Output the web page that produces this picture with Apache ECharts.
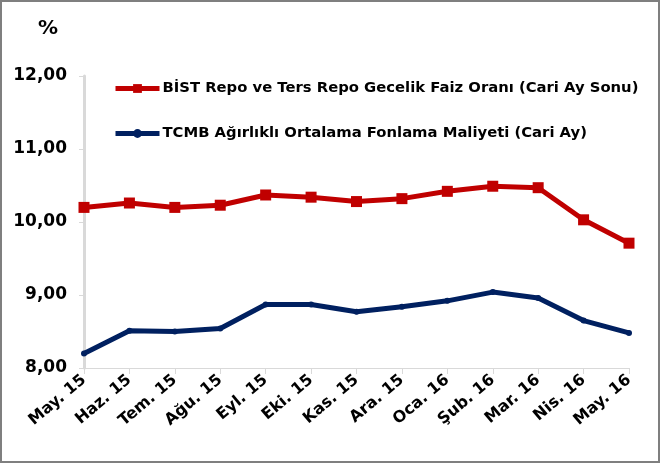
<!DOCTYPE html>
<html>
<head>
<meta charset="utf-8">
<script src="https://cdn.jsdelivr.net/npm/echarts@6/dist/echarts.min.js"></script>
<style>
  html, body { margin: 0; padding: 0; background: #fff; }
  #chart { width: 656px; height: 459px; border: 2px solid #7f7f7f; }
</style>
</head>
<body>
<div id="chart"></div>
<script>
// aylar
const months = ['May. 15', 'Haz. 15', 'Tem. 15', 'Ağu. 15', 'Eyl. 15', 'Eki. 15', 'Kas. 15',
  'Ara. 15', 'Oca. 16', 'Şub. 16', 'Mar. 16', 'Nis. 16', 'May. 16'];
// BİST repo faizi
const repoRate = [10.20, 10.26, 10.20, 10.23, 10.37, 10.34, 10.28, 10.32, 10.42, 10.49, 10.47, 10.03, 9.71];
// TCMB fonlama maliyeti
const fundingCost = [8.20, 8.51, 8.50, 8.54, 8.87, 8.87, 8.77, 8.84, 8.92, 9.04, 8.96, 8.65, 8.48];
const repoName = 'BİST Repo ve Ters Repo Gecelik Faiz Oranı (Cari Ay Sonu)';
const fundName = 'TCMB Ağırlıklı Ortalama Fonlama Maliyeti (Cari Ay)';

const font = 'DejaVu Sans';
const chart = echarts.init(document.getElementById('chart'));

chart.setOption({
  animation: false,
  textStyle: { fontFamily: font },
  grid: { left: 82, right: 29, top: 74, bottom: 93 },
  legend: {
    orient: 'vertical',
    left: 106,
    top: 74,
    itemGap: 30,
    itemWidth: 44,
    itemHeight: 11,
    lineStyle: { width: 5 },
    textStyle: { fontFamily: font, fontWeight: 'bold', fontSize: 14.8, color: '#000', padding: [0, 0, 0, -2] },
    data: [repoName, fundName],
  },
  xAxis: {
    type: 'category',
    boundaryGap: false,
    data: months,
    axisLine: { lineStyle: { color: '#d9d9d9', width: 1 } },
    axisTick: { show: true, alignWithLabel: true, length: 6, lineStyle: { color: '#d9d9d9' } },
    axisLabel: {
      rotate: 40,
      interval: 0,
      margin: 10,
      color: '#000',
      fontWeight: 'bold',
      fontSize: 16,
      fontFamily: font,
    },
  },
  yAxis: {
    type: 'value',
    min: 8,
    max: 12,
    interval: 1,
    name: '%',
    nameLocation: 'end',
    nameGap: 37,
    nameTextStyle: { color: '#000', fontWeight: 'bold', fontSize: 20, fontFamily: font, padding: [0, 72, 0, 0] },
    splitLine: { show: false },
    axisLine: { show: true, lineStyle: { color: '#d9d9d9', width: 3 } },
    axisTick: { show: true, length: 5, lineStyle: { color: '#d9d9d9' } },
    axisLabel: {
      color: '#000',
      fontWeight: 'bold',
      fontSize: 17,
      fontFamily: font,
      margin: 17,
      formatter: (v) => v.toFixed(2).replace('.', ','),
    },
  },
  series: [
    {
      name: repoName,
      type: 'line',
      data: repoRate,
      symbol: 'rect',
      symbolSize: 11,
      lineStyle: { color: '#c00000', width: 5 },
      itemStyle: { color: '#c00000' },
    },
    {
      name: fundName,
      type: 'line',
      data: fundingCost,
      symbol: 'circle',
      symbolSize: 6,
      lineStyle: { color: '#002060', width: 5 },
      itemStyle: { color: '#002060' },
    },
  ],
});
</script>
</body>
</html>
